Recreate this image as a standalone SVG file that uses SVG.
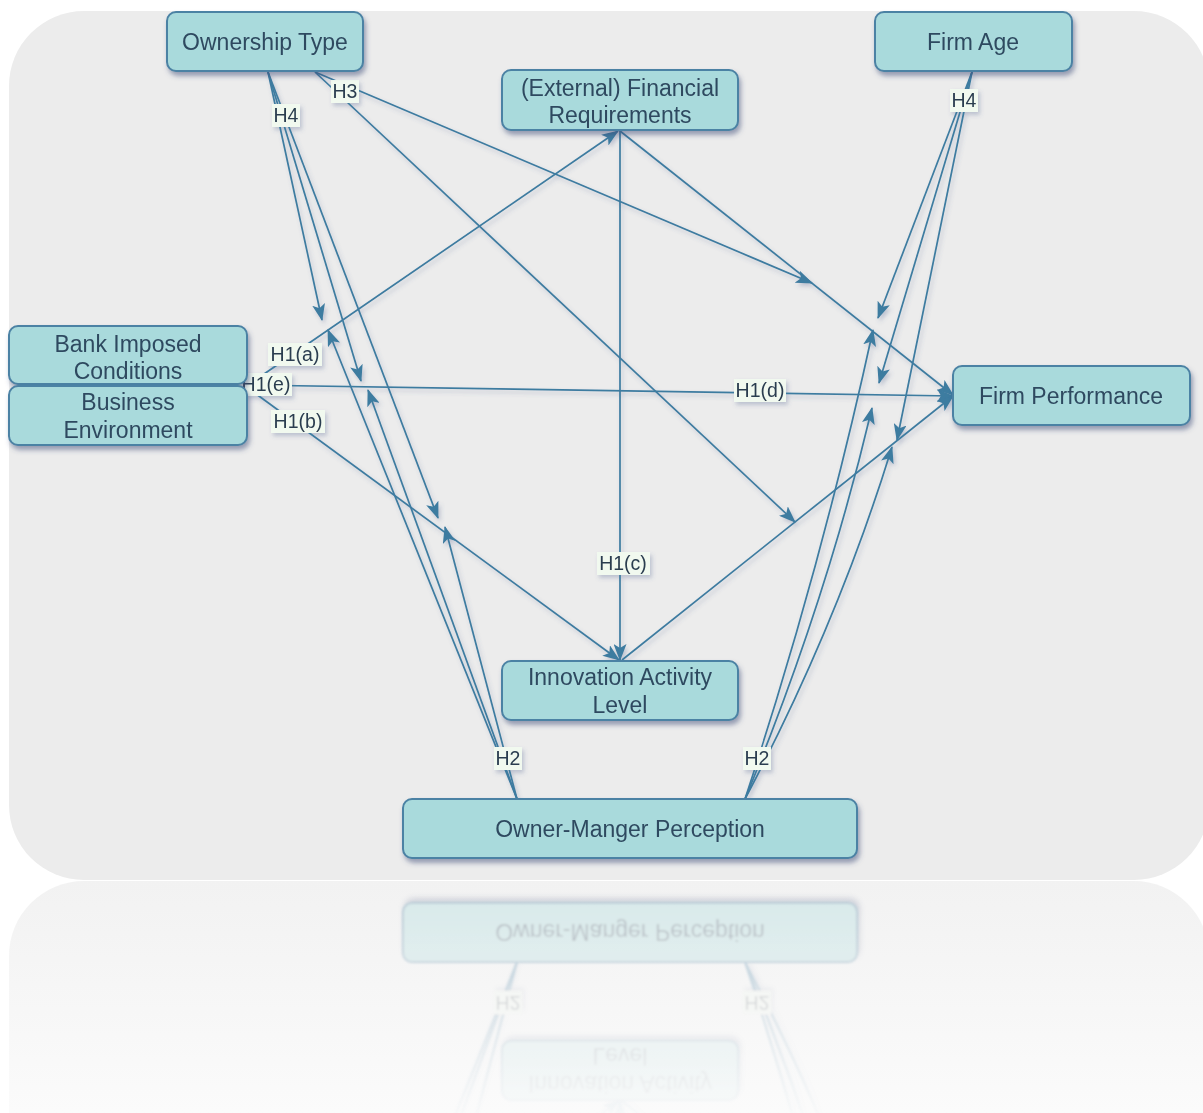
<svg xmlns="http://www.w3.org/2000/svg" xmlns:xlink="http://www.w3.org/1999/xlink" width="1203" height="1113" viewBox="0 0 1203 1113">
<defs>
<style>
.node rect{fill:#a9dadc;stroke:#4c82a4;stroke-width:2}
.node text{font-family:"Liberation Sans",Arial,sans-serif;font-size:23px;fill:#2f4a60;text-anchor:middle}
.edge{fill:none;stroke:#3d7ba0;stroke-width:1.7;marker-end:url(#arrow)}
.lbl rect{fill:#f1f9ef}
.lbl text{font-family:"Liberation Sans",Arial,sans-serif;font-size:19.5px;fill:#2c3e50;text-anchor:middle}
</style>
<filter id="nshadow" x="-10%" y="-20%" width="130%" height="160%">
<feDropShadow dx="2" dy="4" stdDeviation="2.5" flood-color="#3a4878" flood-opacity="0.5"/>
</filter>
<filter id="eshadow" x="-5%" y="-5%" width="110%" height="110%">
<feDropShadow dx="2" dy="3" stdDeviation="2" flood-color="#506090" flood-opacity="0.3"/>
</filter>
<filter id="rblur"><feGaussianBlur stdDeviation="1.2"/></filter>
<marker id="arrow" markerUnits="userSpaceOnUse" markerWidth="17" markerHeight="13" viewBox="0 0 17 13" refX="16" refY="6.5" orient="auto">
<path d="M0,0 L17,6.5 L0,13 L4,6.5 Z" fill="#3d7ba0"/>
</marker>
<linearGradient id="fadeGrad" x1="0" y1="881" x2="0" y2="1113" gradientUnits="userSpaceOnUse">
<stop offset="0" stop-color="#fff" stop-opacity="0.38"/>
<stop offset="1" stop-color="#fff" stop-opacity="0.03"/>
</linearGradient>
<mask id="fade" maskUnits="userSpaceOnUse" x="0" y="881" width="1203" height="232">
<rect x="0" y="881" width="1203" height="232" fill="url(#fadeGrad)"/>
</mask>
<linearGradient id="reflPanel" x1="0" y1="881" x2="0" y2="1113" gradientUnits="userSpaceOnUse">
<stop offset="0" stop-color="#f2f2f2"/>
<stop offset="1" stop-color="#fbfbfb"/>
</linearGradient>
</defs>
<rect x="0" y="0" width="1203" height="1113" fill="#ffffff"/>
<rect id="panel" x="9" y="11" width="1200" height="869" rx="75" ry="75" fill="#ececec"/>
<path d="M9,1113 L9,956 A75,75 0 0 1 84,881 L1134,881 A75,75 0 0 1 1209,956 L1209,1113 Z" fill="url(#reflPanel)"/>

<g id="content">
<g id="connectors" filter="url(#eshadow)">
<path class="edge" d="M268,72 L322,320"/>
<path class="edge" d="M268,72 L361,381"/>
<path class="edge" d="M268,72 L438,518"/>
<path class="edge" d="M315,72 L812,283"/>
<path class="edge" d="M315,72 L795,522"/>
<path class="edge" d="M972,72 L878,318"/>
<path class="edge" d="M972,72 L879,383"/>
<path class="edge" d="M972,72 L897,440"/>
<path class="edge" d="M517,799 L328,330"/>
<path class="edge" d="M517,799 L368,390"/>
<path class="edge" d="M517,799 L445,527"/>
<path class="edge" d="M745,799 Q822,565 873,330"/>
<path class="edge" d="M745,799 Q826,603 872,408"/>
<path class="edge" d="M745,799 Q838,623 892,447"/>
<path class="edge" d="M248,385 L618,131"/>
<path class="edge" d="M248,385 L953,396"/>
<path class="edge" d="M248,388 L619,660"/>
<path class="edge" d="M620,131 L620,660"/>
<path class="edge" d="M620,131 L953,395"/>
<path class="edge" d="M622,660 L953,396"/>
<g class="lbl"><rect x="272" y="104" width="28" height="23"/><text x="286" y="122">H4</text></g>
<g class="lbl"><rect x="331" y="80" width="28" height="23"/><text x="345" y="98">H3</text></g>
<g class="lbl"><rect x="950" y="89" width="28" height="23"/><text x="964" y="107">H4</text></g>
<g class="lbl"><rect x="268" y="343" width="54" height="23"/><text x="295" y="361">H1(a)</text></g>
<g class="lbl"><rect x="240" y="373" width="52" height="23"/><text x="266" y="391">H1(e)</text></g>
<g class="lbl"><rect x="271" y="410" width="54" height="23"/><text x="298" y="428">H1(b)</text></g>
<g class="lbl"><rect x="734" y="379" width="52" height="23"/><text x="760" y="397">H1(d)</text></g>
<g class="lbl"><rect x="597" y="552" width="53" height="23"/><text x="623" y="570">H1(c)</text></g>
<g class="lbl"><rect x="494" y="747" width="28" height="23"/><text x="508" y="765">H2</text></g>
<g class="lbl"><rect x="743" y="747" width="28" height="23"/><text x="757" y="765">H2</text></g>
</g>

<g id="node-ownership-type" class="node" filter="url(#nshadow)">
<rect x="167" y="12" width="196" height="59" rx="9"/>
<text x="265" y="50">Ownership Type</text>
</g>
<g id="node-financial-requirements" class="node" filter="url(#nshadow)">
<rect x="502" y="70" width="236" height="60" rx="9"/>
<text x="620" y="96">(External) Financial</text>
<text x="620" y="123">Requirements</text>
</g>
<g id="node-firm-age" class="node" filter="url(#nshadow)">
<rect x="875" y="12" width="197" height="59" rx="9"/>
<text x="973" y="50">Firm Age</text>
</g>
<g id="node-bank-imposed-conditions" class="node" filter="url(#nshadow)">
<rect x="9" y="326" width="238" height="58" rx="9"/>
<text x="128" y="352">Bank Imposed</text>
<text x="128" y="379">Conditions</text>
</g>
<g id="node-business-environment" class="node" filter="url(#nshadow)">
<rect x="9" y="386" width="238" height="59" rx="9"/>
<text x="128" y="410">Business</text>
<text x="128" y="438">Environment</text>
</g>
<g id="node-firm-performance" class="node" filter="url(#nshadow)">
<rect x="953" y="366" width="237" height="59" rx="9"/>
<text x="1071" y="404">Firm Performance</text>
</g>
<g id="node-innovation-activity-level" class="node" filter="url(#nshadow)">
<rect x="502" y="661" width="236" height="59" rx="9"/>
<text x="620" y="685">Innovation Activity</text>
<text x="620" y="713">Level</text>
</g>
<g id="node-owner-manger-perception" class="node" filter="url(#nshadow)">
<rect x="403" y="799" width="454" height="59" rx="9"/>
<text x="630" y="837">Owner-Manger Perception</text>
</g>
</g>

<g id="reflection" mask="url(#fade)">
<g transform="matrix(1,0,0,-1,0,1761)" filter="url(#rblur)">
<use href="#content" xlink:href="#content"/>
</g>
</g>
</svg>
